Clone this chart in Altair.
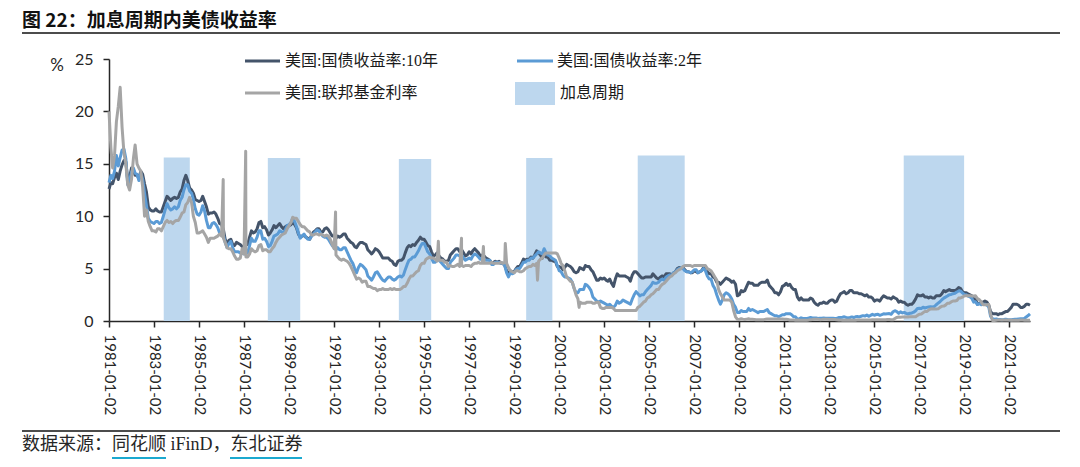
import altair as alt
import pandas as pd

# ---------------- data (monthly) ----------------
months = pd.date_range("1981-01-01", "2021-12-01", freq="MS").strftime("%Y-%m-%d").tolist()

us10y = [
    12.6, 13.2, 13.1, 13.7, 14.1, 13.5, 14.3, 14.9, 15.3, 15.2, 13.4, 13.7,
    14.6, 14.4, 13.9, 13.9, 13.6, 14.3, 14.0, 13.1, 12.3, 10.9, 10.6, 10.5,
    10.5, 10.7, 10.5, 10.4, 10.4, 10.9, 11.4, 11.9, 11.7, 11.5, 11.7, 11.8,
    11.7, 11.8, 12.3, 12.6, 13.4, 13.9, 13.4, 12.7, 12.5, 12.2, 11.6, 11.5,
    11.4, 11.5, 11.9, 11.4, 10.9, 10.2, 10.3, 10.3, 10.4, 10.2, 9.8, 9.3,
    9.2, 8.7, 7.8, 7.3, 7.7, 7.8, 7.3, 7.2, 7.5, 7.4, 7.3, 7.1,
    7.1, 7.3, 7.3, 8.0, 8.6, 8.4, 8.5, 8.8, 9.4, 9.5, 8.9, 9.0,
    8.7, 8.2, 8.4, 8.7, 9.1, 8.9, 9.1, 9.3, 9.0, 8.8, 9.0, 9.1,
    9.1, 9.2, 9.4, 9.2, 8.9, 8.3, 8.0, 8.1, 8.2, 8.0, 7.9, 7.8,
    8.2, 8.5, 8.6, 8.8, 8.8, 8.5, 8.5, 8.8, 8.9, 8.7, 8.4, 8.1,
    8.1, 7.9, 8.1, 8.0, 8.1, 8.3, 8.3, 7.9, 7.7, 7.5, 7.4, 7.1,
    7.0, 7.3, 7.5, 7.5, 7.4, 7.3, 6.8, 6.6, 6.4, 6.6, 6.9, 6.8,
    6.6, 6.3, 6.0, 6.0, 6.0, 6.0, 5.8, 5.7, 5.4, 5.3, 5.7, 5.8,
    5.8, 6.0, 6.5, 7.0, 7.2, 7.1, 7.3, 7.2, 7.5, 7.7, 8.0, 7.8,
    7.8, 7.5, 7.2, 7.1, 6.6, 6.2, 6.3, 6.5, 6.2, 6.0, 5.9, 5.7,
    5.7, 5.8, 6.3, 6.5, 6.7, 6.9, 6.9, 6.6, 6.8, 6.5, 6.2, 6.3,
    6.6, 6.4, 6.7, 6.9, 6.7, 6.5, 6.2, 6.3, 6.2, 6.0, 5.9, 5.8,
    5.5, 5.6, 5.7, 5.6, 5.7, 5.5, 5.5, 5.3, 4.8, 4.5, 4.8, 4.7,
    4.7, 5.0, 5.2, 5.2, 5.5, 5.9, 5.8, 5.9, 5.9, 6.1, 6.0, 6.3,
    6.7, 6.5, 6.3, 6.0, 6.4, 6.1, 6.1, 5.8, 5.8, 5.7, 5.7, 5.2,
    5.2, 5.1, 4.9, 5.1, 5.4, 5.3, 5.2, 5.0, 4.7, 4.6, 4.7, 5.1,
    5.0, 4.9, 5.3, 5.2, 5.2, 4.9, 4.7, 4.3, 3.9, 3.9, 4.1, 4.0,
    4.1, 3.9, 3.8, 4.0, 3.6, 3.3, 4.0, 4.5, 4.3, 4.3, 4.3, 4.3,
    4.2, 4.1, 3.8, 4.4, 4.7, 4.7, 4.5, 4.3, 4.1, 4.1, 4.2, 4.2,
    4.2, 4.2, 4.5, 4.3, 4.1, 4.0, 4.2, 4.3, 4.2, 4.5, 4.5, 4.5,
    4.4, 4.6, 4.7, 5.0, 5.1, 5.1, 5.1, 4.9, 4.7, 4.7, 4.6, 4.6,
    4.8, 4.7, 4.6, 4.7, 4.8, 5.1, 5.0, 4.7, 4.5, 4.5, 4.2, 4.1,
    3.7, 3.7, 3.5, 3.7, 3.9, 4.1, 4.0, 3.9, 3.7, 3.8, 3.5, 2.4,
    2.5, 2.9, 2.8, 2.9, 3.3, 3.7, 3.6, 3.6, 3.4, 3.4, 3.4, 3.6,
    3.7, 3.7, 3.7, 3.9, 3.4, 3.2, 3.0, 2.7, 2.7, 2.5, 2.8, 3.3,
    3.4, 3.6, 3.4, 3.5, 3.2, 3.0, 3.0, 2.3, 2.0, 2.2, 2.0, 2.0,
    2.0, 2.0, 2.2, 2.1, 1.8, 1.6, 1.5, 1.7, 1.7, 1.8, 1.7, 1.7,
    1.9, 2.0, 2.0, 1.8, 1.9, 2.3, 2.6, 2.7, 2.8, 2.6, 2.7, 2.9,
    2.9, 2.7, 2.7, 2.7, 2.6, 2.6, 2.5, 2.4, 2.5, 2.3, 2.3, 2.2,
    1.9, 2.0, 2.0, 1.9, 2.2, 2.4, 2.3, 2.2, 2.2, 2.1, 2.3, 2.2,
    2.1, 1.8, 1.9, 1.8, 1.8, 1.6, 1.5, 1.6, 1.6, 1.8, 2.1, 2.5,
    2.4, 2.4, 2.5, 2.3, 2.3, 2.2, 2.3, 2.2, 2.2, 2.4, 2.4, 2.4,
    2.6, 2.9, 2.8, 2.9, 3.0, 2.9, 2.9, 2.9, 3.0, 3.2, 3.1, 2.8,
    2.7, 2.7, 2.6, 2.5, 2.4, 2.1, 2.1, 1.6, 1.7, 1.7, 1.8, 1.9,
    1.8, 1.5, 0.9, 0.7, 0.7, 0.7, 0.6, 0.7, 0.7, 0.8, 0.9, 0.9,
    1.1, 1.3, 1.6, 1.6, 1.6, 1.5, 1.3, 1.3, 1.4, 1.6, 1.6, 1.5,
]

us2y = [
    13.2, 13.9, 13.6, 14.3, 15.8, 14.8, 15.6, 16.3, 16.4, 15.5, 13.0, 13.4,
    14.2, 14.6, 14.1, 14.0, 13.4, 14.1, 13.5, 12.2, 11.0, 9.8, 9.5, 9.4,
    9.3, 9.5, 9.5, 9.3, 9.4, 10.0, 10.6, 11.2, 10.8, 10.6, 10.7, 10.9,
    10.7, 10.9, 11.5, 11.8, 12.5, 13.0, 13.0, 12.4, 12.2, 11.6, 10.7, 10.2,
    10.1, 10.4, 11.0, 10.5, 9.6, 8.9, 8.9, 9.3, 9.4, 9.2, 8.9, 8.4,
    8.4, 8.2, 7.5, 7.0, 7.4, 7.6, 7.0, 6.6, 6.6, 6.6, 6.5, 6.5,
    6.4, 6.5, 6.5, 7.2, 7.9, 7.6, 7.6, 8.0, 8.6, 8.6, 7.8, 7.9,
    7.6, 7.1, 7.2, 7.6, 8.1, 8.2, 8.3, 8.6, 8.5, 8.4, 8.7, 9.1,
    9.2, 9.4, 9.8, 9.5, 9.0, 8.4, 7.9, 8.1, 8.3, 8.0, 7.8, 7.8,
    8.1, 8.3, 8.5, 8.7, 8.6, 8.3, 8.1, 8.0, 8.0, 7.8, 7.5, 7.2,
    7.0, 6.8, 7.0, 6.8, 6.8, 7.0, 7.0, 6.6, 6.2, 5.8, 5.5, 5.0,
    4.6, 5.1, 5.4, 5.3, 5.1, 4.9, 4.3, 4.1, 3.9, 4.2, 4.6, 4.7,
    4.4, 4.1, 3.9, 3.8, 4.0, 4.2, 4.2, 4.0, 3.9, 4.0, 4.2, 4.3,
    4.2, 4.4, 4.9, 5.4, 5.8, 5.9, 6.1, 6.1, 6.4, 6.7, 7.1, 7.4,
    7.4, 7.0, 6.6, 6.4, 6.0, 5.6, 5.6, 5.9, 5.8, 5.6, 5.4, 5.2,
    5.0, 5.0, 5.6, 5.8, 6.0, 6.3, 6.3, 6.2, 6.3, 6.0, 5.8, 5.9,
    6.0, 5.9, 6.2, 6.4, 6.3, 6.1, 5.9, 6.0, 5.9, 5.8, 5.8, 5.8,
    5.4, 5.4, 5.6, 5.6, 5.6, 5.5, 5.5, 5.3, 4.6, 4.2, 4.6, 4.5,
    4.6, 4.9, 5.0, 5.0, 5.3, 5.6, 5.6, 5.8, 5.8, 6.0, 6.0, 6.2,
    6.4, 6.6, 6.5, 6.4, 6.9, 6.5, 6.3, 6.2, 6.0, 5.9, 5.8, 5.3,
    4.8, 4.7, 4.4, 4.2, 4.2, 4.1, 4.0, 3.7, 3.1, 2.7, 2.7, 3.0,
    3.0, 3.0, 3.5, 3.4, 3.2, 2.9, 2.3, 2.1, 1.9, 1.8, 1.9, 1.8,
    1.7, 1.6, 1.5, 1.6, 1.4, 1.3, 1.5, 1.9, 1.7, 1.8, 2.0, 1.9,
    1.8, 1.7, 1.6, 2.1, 2.5, 2.8, 2.6, 2.4, 2.5, 2.5, 2.8, 3.0,
    3.2, 3.4, 3.7, 3.6, 3.6, 3.7, 3.9, 4.0, 3.9, 4.2, 4.3, 4.4,
    4.4, 4.6, 4.7, 4.9, 5.0, 5.1, 5.0, 4.8, 4.7, 4.7, 4.6, 4.7,
    4.9, 4.9, 4.6, 4.7, 4.8, 5.0, 4.8, 4.3, 4.0, 4.0, 3.4, 3.1,
    2.5, 2.0, 1.6, 2.0, 2.5, 2.7, 2.6, 2.4, 2.1, 1.6, 1.3, 0.8,
    0.8, 1.0, 0.9, 0.9, 0.9, 1.2, 1.0, 1.1, 1.0, 0.9, 0.8, 0.9,
    0.9, 0.9, 1.0, 1.1, 0.8, 0.7, 0.6, 0.5, 0.5, 0.4, 0.5, 0.6,
    0.6, 0.7, 0.7, 0.7, 0.6, 0.4, 0.4, 0.2, 0.2, 0.3, 0.25, 0.25,
    0.23, 0.28, 0.34, 0.29, 0.29, 0.29, 0.25, 0.27, 0.26, 0.28, 0.27, 0.26,
    0.27, 0.27, 0.26, 0.23, 0.25, 0.33, 0.34, 0.36, 0.40, 0.34, 0.30, 0.34,
    0.39, 0.33, 0.40, 0.42, 0.39, 0.45, 0.51, 0.47, 0.57, 0.45, 0.54, 0.64,
    0.55, 0.62, 0.64, 0.54, 0.61, 0.69, 0.67, 0.70, 0.71, 0.64, 0.88, 0.98,
    0.90, 0.73, 0.88, 0.77, 0.82, 0.73, 0.67, 0.74, 0.77, 0.84, 0.98, 1.20,
    1.21, 1.20, 1.31, 1.24, 1.30, 1.34, 1.37, 1.34, 1.38, 1.55, 1.70, 1.84,
    2.03, 2.18, 2.28, 2.38, 2.51, 2.53, 2.61, 2.64, 2.77, 2.86, 2.86, 2.68,
    2.54, 2.50, 2.37, 2.31, 2.17, 1.80, 1.84, 1.57, 1.65, 1.55, 1.61, 1.61,
    1.52, 1.33, 0.45, 0.22, 0.17, 0.19, 0.14, 0.14, 0.13, 0.14, 0.17, 0.14,
    0.13, 0.12, 0.15, 0.16, 0.16, 0.20, 0.22, 0.22, 0.24, 0.39, 0.52, 0.68,
]

fedfunds = [
    20.0, 16.5, 14.6, 15.8, 19.0, 20.5, 22.3, 18.5, 16.0, 15.0, 13.0, 12.5,
    13.5, 15.5, 16.8, 15.0, 14.6, 14.3, 12.8, 10.0, 10.6, 9.5, 9.0, 8.6,
    8.6, 8.5, 8.8, 8.8, 8.6, 9.0, 9.4, 9.6, 9.4, 9.5, 9.3, 9.5,
    9.6, 9.6, 9.9, 10.3, 10.4, 11.1, 11.3, 11.8, 11.3, 10.0, 9.4, 8.4,
    8.4, 8.5, 8.6, 8.3, 8.0, 7.5, 7.9, 7.9, 7.9, 8.0, 8.1, 8.3,
    8.1, 7.9, 7.5, 7.0, 6.9, 6.9, 6.6, 6.2, 5.9, 5.9, 6.0, 6.9,
    6.4, 6.1, 6.1, 6.4, 6.9, 6.7, 6.6, 6.7, 7.2, 7.3, 6.7, 6.8,
    6.8, 6.6, 6.6, 6.9, 7.1, 7.5, 7.8, 8.0, 8.2, 8.3, 8.4, 8.8,
    9.1, 9.4, 9.9, 9.8, 9.8, 9.5, 9.2, 9.0, 9.0, 8.8, 8.6, 8.5,
    8.2, 8.2, 8.3, 8.3, 8.2, 8.3, 8.2, 8.1, 8.2, 8.1, 7.8, 7.3,
    6.9, 6.3, 6.1, 5.9, 5.8, 5.9, 5.8, 5.7, 5.5, 5.2, 4.8, 4.4,
    4.0, 4.1, 4.0, 3.7, 3.8, 3.8, 3.3, 3.3, 3.2, 3.1, 3.1, 2.9,
    3.0, 3.0, 3.1, 3.0, 3.0, 3.0, 3.1, 3.0, 3.1, 3.0, 3.0, 3.0,
    3.1, 3.3, 3.3, 3.6, 4.0, 4.3, 4.3, 4.5, 4.7, 4.8, 5.3, 5.5,
    5.5, 5.9, 6.0, 6.1, 6.0, 6.0, 5.9, 5.7, 5.8, 5.8, 5.8, 5.6,
    5.6, 5.2, 5.3, 5.2, 5.2, 5.3, 5.4, 5.2, 5.3, 5.2, 5.3, 5.3,
    5.3, 5.2, 5.4, 5.5, 5.5, 5.6, 5.5, 5.5, 5.5, 5.5, 5.5, 5.5,
    5.6, 5.5, 5.5, 5.5, 5.5, 5.6, 5.5, 5.6, 5.5, 5.1, 4.8, 4.7,
    4.6, 4.8, 4.8, 4.7, 4.7, 4.8, 5.0, 5.1, 5.2, 5.2, 5.4, 5.3,
    5.5, 5.7, 5.9, 6.0, 6.3, 6.5, 6.5, 6.5, 6.5, 6.5, 6.5, 6.4,
    6.0, 5.5, 5.3, 4.8, 4.2, 4.0, 3.8, 3.7, 3.1, 2.5, 2.1, 1.8,
    1.7, 1.7, 1.7, 1.8, 1.8, 1.8, 1.7, 1.7, 1.8, 1.8, 1.3, 1.2,
    1.2, 1.3, 1.3, 1.3, 1.3, 1.2, 1.0, 1.0, 1.0, 1.0, 1.0, 1.0,
    1.0, 1.0, 1.0, 1.0, 1.0, 1.0, 1.3, 1.4, 1.6, 1.8, 1.9, 2.2,
    2.3, 2.5, 2.6, 2.8, 3.0, 3.0, 3.3, 3.5, 3.6, 3.8, 4.0, 4.2,
    4.3, 4.5, 4.6, 4.8, 4.9, 5.0, 5.2, 5.3, 5.3, 5.3, 5.3, 5.2,
    5.3, 5.3, 5.3, 5.3, 5.3, 5.3, 5.3, 5.0, 4.9, 4.8, 4.5, 4.2,
    3.9, 3.0, 2.6, 2.3, 2.0, 2.0, 2.0, 2.0, 1.8, 1.0, 0.4, 0.16,
    0.15, 0.22, 0.18, 0.15, 0.18, 0.21, 0.16, 0.16, 0.15, 0.12, 0.12, 0.12,
    0.11, 0.13, 0.16, 0.20, 0.20, 0.18, 0.18, 0.19, 0.19, 0.19, 0.19, 0.18,
    0.17, 0.16, 0.14, 0.10, 0.09, 0.09, 0.07, 0.10, 0.08, 0.07, 0.08, 0.07,
    0.08, 0.10, 0.13, 0.14, 0.16, 0.16, 0.16, 0.13, 0.14, 0.16, 0.16, 0.16,
    0.14, 0.15, 0.14, 0.15, 0.11, 0.09, 0.09, 0.08, 0.08, 0.09, 0.08, 0.09,
    0.07, 0.07, 0.08, 0.09, 0.09, 0.10, 0.09, 0.09, 0.09, 0.09, 0.09, 0.12,
    0.11, 0.11, 0.11, 0.12, 0.12, 0.13, 0.13, 0.14, 0.14, 0.12, 0.12, 0.24,
    0.34, 0.38, 0.36, 0.37, 0.37, 0.38, 0.39, 0.40, 0.40, 0.40, 0.41, 0.54,
    0.65, 0.66, 0.79, 0.90, 0.91, 1.04, 1.15, 1.16, 1.15, 1.15, 1.16, 1.30,
    1.41, 1.42, 1.51, 1.69, 1.70, 1.82, 1.91, 1.91, 1.95, 2.19, 2.20, 2.27,
    2.40, 2.40, 2.41, 2.42, 2.39, 2.38, 2.40, 2.13, 2.04, 1.83, 1.55, 1.55,
    1.55, 1.58, 0.65, 0.05, 0.05, 0.08, 0.09, 0.10, 0.09, 0.09, 0.09, 0.09,
    0.09, 0.08, 0.07, 0.07, 0.06, 0.08, 0.10, 0.09, 0.08, 0.08, 0.08, 0.08,
]

# single-day spikes visible in the federal funds series
fed_spike_dates = ["1986-01-28", "1987-01-28", "1991-01-25", "1995-08-20",
                   "1996-08-30", "1997-08-20", "1998-08-10", "2000-01-15", "2001-11-20"]
fed_spike_values = [13.5, 16.2, 10.4, 7.6, 7.9, 7.1, 7.4, 3.9, 1.3]

# rate-hike periods (shaded)
hike_start = ["1983-06-08", "1988-01-22", "1993-11-17", "1999-07-15", "2004-06-28", "2016-04-22"]
hike_end = ["1984-08-04", "1989-07-01", "1995-04-26", "2000-09-12", "2006-07-30", "2018-12-28"]
hike_top = [15.6, 15.55, 15.45, 15.55, 15.8, 15.8]

tick_years = list(range(1981, 2022, 2))

# ---------------- tables ----------------
df10 = pd.DataFrame({"date": months, "value": us10y})
df2 = pd.DataFrame({"date": months, "value": us2y})
dff = pd.DataFrame({"date": months + fed_spike_dates, "value": fedfunds + fed_spike_values})
dff = dff.sort_values("date").reset_index(drop=True)
dfh = pd.DataFrame({"start": hike_start, "end": hike_end, "top": hike_top})

C10, C2, CF, CH = "#44546A", "#5B9BD5", "#A5A5A5", "#BDD7EE"
AXC = "#262626"
NUMFONT = "Lato"
LEGFONT = "Liberation Serif, Noto Sans CJK SC"

xscale = alt.Scale(type="utc",
                   domain=[alt.DateTime(year=1981, month=1, date=1, utc=True),
                           alt.DateTime(year=2021, month=12, date=1, utc=True)])
yscale = alt.Scale(domain=[0, 25], nice=False)

xaxis = alt.Axis(values=[alt.DateTime(year=y, month=1, date=2, utc=True) for y in tick_years],
                 format="%Y-%m-%d", labelAngle=90, labelFont=NUMFONT, labelFontSize=15,
                 labelColor=AXC, labelPadding=7, tickSize=6, labelOverlap=False,
                 labelFlush=False, labelBound=False, grid=False, title=None)
yaxis = alt.Axis(values=[0, 5, 10, 15, 20, 25], labelFont=NUMFONT, labelFontSize=16,
                 labelColor=AXC, labelPadding=10, tickSize=6, grid=False, title=None)

bars = alt.Chart(dfh).mark_rect(color=CH).encode(
    x=alt.X("start:T", scale=xscale, axis=xaxis),
    x2="end:T",
    y=alt.Y("top:Q", scale=yscale, axis=yaxis),
    y2=alt.datum(0),
)


def line(df, color):
    return alt.Chart(df).mark_line(color=color, strokeWidth=3, strokeJoin="round").encode(
        x=alt.X("date:T", scale=xscale, axis=xaxis),
        y=alt.Y("value:Q", scale=yscale, axis=yaxis),
    )


one = pd.DataFrame({"k": [0]})


def txt(text, x, y, size, font, color="#1a1a1a", weight="normal", align="left"):
    return alt.Chart(one).mark_text(text=text, fontSize=size, font=font, color=color,
                                    fontWeight=weight, align=align, baseline="middle").encode(
        x=alt.value(x), y=alt.value(y))


def hrule(x1, x2, y, color, width):
    return alt.Chart(one).mark_rule(color=color, strokeWidth=width).encode(
        x=alt.value(x1), x2=alt.value(x2), y=alt.value(y))


legend = [
    hrule(136, 171, 2, C10, 3),
    txt("美国:国债收益率:10年", 176, 2, 16, LEGFONT),
    hrule(408, 444, 2, C2, 3),
    txt("美国:国债收益率:2年", 448, 2, 16, LEGFONT),
    hrule(136, 171, 34, CF, 3),
    txt("美国:联邦基金利率", 176, 34, 16, LEGFONT),
    alt.Chart(one).mark_rect(color=CH).encode(x=alt.value(406), x2=alt.value(446),
                                              y=alt.value(23), y2=alt.value(46)),
    txt("加息周期", 451, 34, 16, LEGFONT),
]

decor = [
    txt("图 22：加息周期内美债收益率", -87, -38, 19, "Noto Sans CJK SC", color="#111111", weight="bold"),
    hrule(-87, 951, -26, "#111111", 1.6),
    txt("%", -52, 7, 17, NUMFONT, color=AXC, align="center"),
    hrule(-87, 951, 372, "#111111", 1.6),
    txt("数据来源：同花顺 iFinD，东北证券", -87, 386, 18, LEGFONT, color="#262626"),
    hrule(3, 57, 399, "#1BA9CF", 2),
    hrule(121, 193, 399, "#1BA9CF", 2),
]

chart = alt.layer(
    bars, line(df10, C10), line(df2, C2), line(dff, CF), *legend, *decor
).properties(
    width=921, height=262,
    autosize=alt.AutoSizeParams(type="none"),
    padding={"left": 101, "top": 51, "right": 42, "bottom": 138},
).configure_view(strokeWidth=0).configure_axis(
    domainColor=AXC, tickColor=AXC, domainWidth=1.5, tickWidth=1.5
)

chart.save("out.html", embed_options={"renderer": "svg", "actions": False})
